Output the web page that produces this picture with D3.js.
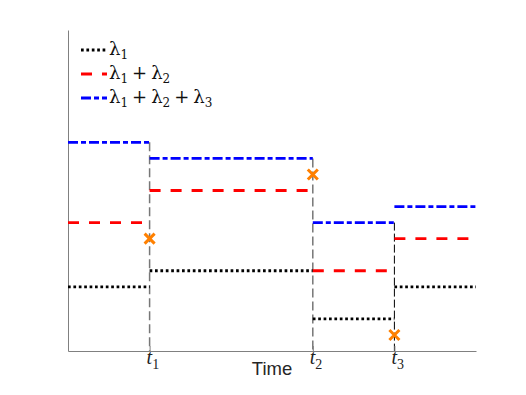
<!DOCTYPE html>
<html>
<head>
<meta charset="utf-8">
<script src="https://cdn.jsdelivr.net/npm/d3@7"></script>
<style>
  body { margin: 0; background: #fff; }
  svg { display: block; }
</style>
</head>
<body>
<div id="chart"></div>
<script>
// segment boundaries on the time axis (t0 .. end)
const breaks = [0, 1, 3, 4, 5];
const jumpTimes = [1, 3, 4];
const jumpLabels = ["1", "2", "3"];

// piecewise constant values, one per segment
const lambda1 = [4, 5, 2, 4];
const lambda12 = [8, 10, 5, 7];
const lambda123 = [13, 12, 8, 9];

// orange crosses
const markerTimes = [1, 3, 4];
const markerValues = [7, 11, 1];

const legendLabels = [["1"], ["1", "2"], ["1", "2", "3"]];

const W = 526, H = 395;
const svg = d3.select("#chart").append("svg")
    .attr("width", W)
    .attr("height", H);

const x = d3.scaleLinear().domain([0, 5]).range([68, 476]);
const y = d3.scaleLinear().domain([0, 20]).range([351, 30]);

const mathFont = "'DejaVu Serif', 'Liberation Serif', serif";

// vertical guide lines at the jumps
const guideStyles = [
    { color: "#777", width: 1.5, dash: "9,4" },
    { color: "#777", width: 1.5, dash: "9,4" },
    { color: "#000", width: 1, dash: "8,3" }
];
svg.selectAll(".guide")
    .data(jumpTimes)
    .enter().append("line")
    .attr("class", "guide")
    .attr("x1", d => x(d))
    .attr("x2", d => x(d))
    .attr("y1", (d, i) => y(lambda123[i]))
    .attr("y2", y(0))
    .attr("stroke", (d, i) => guideStyles[i].color)
    .attr("stroke-width", (d, i) => guideStyles[i].width)
    .attr("stroke-dasharray", (d, i) => guideStyles[i].dash);

// axes
const xAxis = svg.append("g")
    .attr("transform", `translate(0,${y(0)})`)
    .call(d3.axisBottom(x).tickValues(jumpTimes).tickSize(-5).tickSizeOuter(0).tickFormat(""));
xAxis.select(".domain").attr("stroke", "#808080");
xAxis.selectAll(".tick line").attr("stroke", "#808080");

const yAxis = svg.append("g")
    .attr("transform", `translate(${x(0)},0)`)
    .call(d3.axisLeft(y).tickValues([]).tickSizeOuter(0));
yAxis.select(".domain").attr("stroke", "#808080");

// tick labels t_1, t_2, t_3
jumpTimes.forEach((t, i) => {
    const txt = svg.append("text")
        .attr("x", x(t) - 3)
        .attr("y", 364)
        .attr("font-family", "'Liberation Serif', 'DejaVu Serif', serif")
        .attr("font-size", 20)
        .attr("fill", "#222");
    txt.append("tspan").attr("font-style", "italic").text("t");
    txt.append("tspan").attr("font-size", 14).attr("dy", 5).text(jumpLabels[i]);
});

svg.append("text")
    .attr("x", 272)
    .attr("y", 375)
    .attr("text-anchor", "middle")
    .attr("font-family", "'Liberation Sans', Arial, sans-serif")
    .attr("font-size", 18.5)
    .attr("fill", "#262626")
    .text("Time");

// series
const series = [
    { values: lambda1, color: "#000", dash: "2.7,2.7" },
    { values: lambda12, color: "#ff0000", dash: "11,10" },
    { values: lambda123, color: "#0000ff", dash: "10,3,5,3" }
];

series.forEach(s => {
    svg.selectAll(null)
        .data(s.values)
        .enter().append("line")
        .attr("x1", (d, i) => x(breaks[i]))
        .attr("x2", (d, i) => x(breaks[i + 1]))
        .attr("y1", d => y(d))
        .attr("y2", d => y(d))
        .attr("stroke", s.color)
        .attr("stroke-width", 2.8)
        .attr("stroke-dasharray", s.dash);
});

// orange crosses
const r = 5;
markerTimes.forEach((t, i) => {
    const cx = x(t), cy = y(markerValues[i]);
    svg.append("path")
        .attr("d", `M${cx - r},${cy - r}L${cx + r},${cy + r}M${cx - r},${cy + r}L${cx + r},${cy - r}`)
        .attr("stroke", "#ff8000")
        .attr("stroke-width", 3)
        .attr("fill", "none");
});

// legend
const legendY = [50, 74, 98];
series.forEach((s, i) => {
    svg.append("line")
        .attr("x1", 81)
        .attr("x2", 107)
        .attr("y1", legendY[i])
        .attr("y2", legendY[i])
        .attr("stroke", s.color)
        .attr("stroke-width", 2.8)
        .attr("stroke-dasharray", s.dash);
    const txt = svg.append("text")
        .attr("x", 109)
        .attr("y", legendY[i] + 5)
        .attr("font-family", mathFont)
        .attr("font-size", 18)
        .attr("fill", "#111");
    legendLabels[i].forEach((n, k) => {
        if (k > 0) txt.append("tspan").attr("dy", -4).attr("dx", 4).text("+");
        txt.append("tspan").attr("dx", k > 0 ? 4 : null).text("λ");
        txt.append("tspan").attr("font-size", 12).attr("dy", 4).text(n);
    });
});
</script>
</body>
</html>
